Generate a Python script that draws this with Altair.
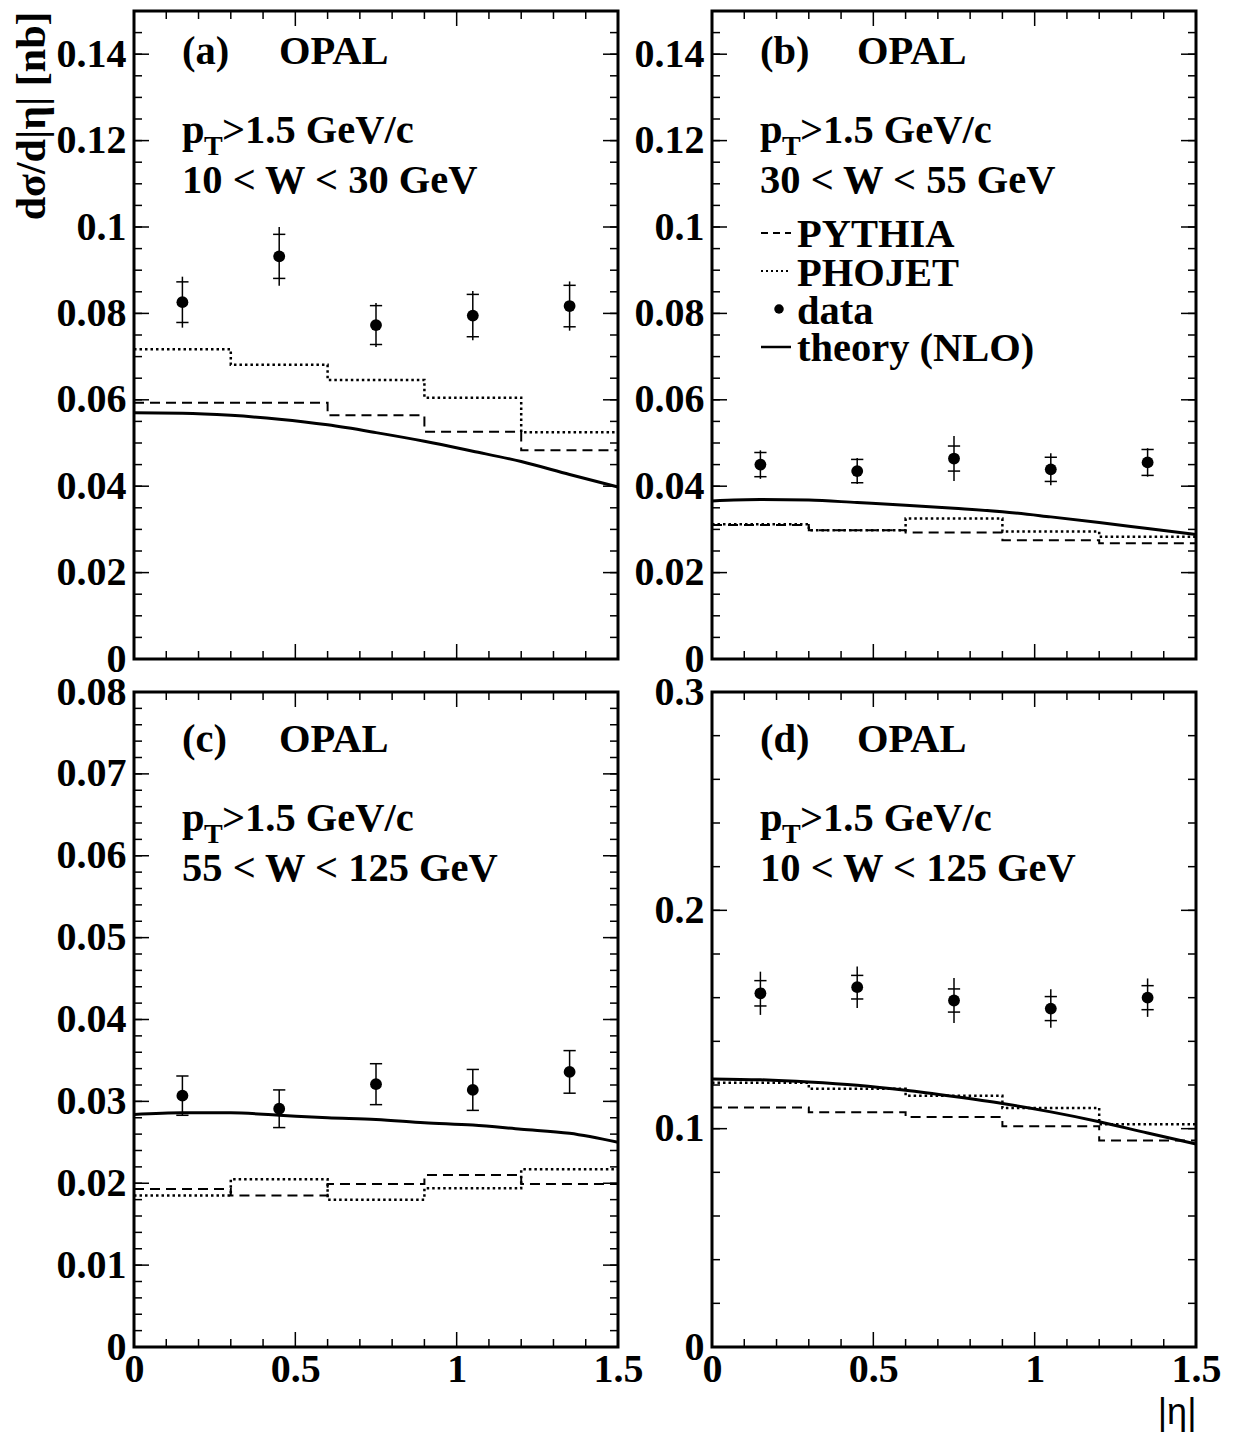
import altair as alt
import pandas as pd

# ---------------- data ----------------
BIN_EDGES = [0.0, 0.3, 0.6, 0.9, 1.2, 1.5]
BIN_CENTERS = [0.15, 0.45, 0.75, 1.05, 1.35]
THEORY_X = [0.0, 0.15, 0.30, 0.45, 0.60, 0.75, 0.90, 1.05, 1.20, 1.35, 1.50]

# (a) 10 < W < 30 GeV
A_DATA = [0.0826, 0.0932, 0.0773, 0.0795, 0.0817]
A_STAT = [0.0047, 0.0051, 0.0045, 0.0049, 0.0048]
A_TOT = [0.0059, 0.0068, 0.0051, 0.0057, 0.0057]
A_PYTHIA = [0.0593, 0.0593, 0.0564, 0.0526, 0.0483]
A_PHOJET = [0.0717, 0.0681, 0.0646, 0.0605, 0.0525]
A_THEORY = [0.0570, 0.0569, 0.0564, 0.0555, 0.0542, 0.0524, 0.0504, 0.0481, 0.0457, 0.0427, 0.0398]

# (b) 30 < W < 55 GeV
B_DATA = [0.0450, 0.0435, 0.0464, 0.0439, 0.0455]
B_STAT = [0.0028, 0.0027, 0.0029, 0.0028, 0.0030]
B_TOT = [0.0033, 0.0030, 0.0052, 0.0037, 0.0033]
B_PYTHIA = [0.0310, 0.0298, 0.0293, 0.0275, 0.0268]
B_PHOJET = [0.0312, 0.0298, 0.0325, 0.0295, 0.0283]
B_THEORY = [0.0366, 0.0369, 0.0368, 0.0362, 0.0356, 0.0349, 0.0341, 0.0329, 0.0316, 0.0302, 0.0288]

# (c) 55 < W < 125 GeV
C_DATA = [0.0307, 0.0291, 0.0321, 0.0314, 0.0336]
C_STAT = [0.0024, 0.0023, 0.0025, 0.0025, 0.0026]
C_TOT = [0.0024, 0.0023, 0.0025, 0.0025, 0.0026]
C_PYTHIA = [0.0193, 0.0185, 0.0199, 0.0210, 0.0199]
C_PHOJET = [0.0185, 0.0205, 0.0180, 0.0194, 0.0217]
C_THEORY = [0.0284, 0.0286, 0.0286, 0.0283, 0.0280, 0.0278, 0.0274, 0.0271, 0.0266, 0.0261, 0.0250]

# (d) 10 < W < 125 GeV
D_DATA = [0.1620, 0.1648, 0.1587, 0.1550, 0.1600]
D_STAT = [0.0058, 0.0054, 0.0053, 0.0055, 0.0055]
D_TOT = [0.0099, 0.0095, 0.0103, 0.0088, 0.0088]
D_PYTHIA = [0.1097, 0.1075, 0.1054, 0.1011, 0.0946]
D_PHOJET = [0.1210, 0.1183, 0.1151, 0.1095, 0.1020]
D_THEORY = [0.1228, 0.1224, 0.1214, 0.1199, 0.1176, 0.1147, 0.1115, 0.1077, 0.1032, 0.0980, 0.0930]

# axis tick labels
Y_LABELS_AB = [0, 0.02, 0.04, 0.06, 0.08, 0.1, 0.12, 0.14]
Y_LABELS_C = [0, 0.01, 0.02, 0.03, 0.04, 0.05, 0.06, 0.07, 0.08]
Y_LABELS_D = [0, 0.1, 0.2, 0.3]
X_LABELS = [0, 0.5, 1, 1.5]

# ---------------- style ----------------
SERIF = "Liberation Serif"
FS = 40.5
LFS = 40
W = 484
H_TOP = 648
H_BOT = 655
MAJ = 15
MIN = 8


def minor_ticks(vmax, step):
    n = int(round(vmax / step))
    return [round(i * step, 6) for i in range(1, n)]


def panel(tag, wtext, data, stat, tot, pythia, phojet, theory,
          ymax, ylabels, ystep, height, bottom, ytitle=False, legend=False,
          xtitle=False, dy=0):
    xs = alt.Scale(domain=[0, 1.5], nice=False, zero=False)
    ys = alt.Scale(domain=[0, ymax], nice=False, zero=False)

    yaxis = alt.Axis(values=ylabels, format="~g", ticks=False, domain=False, grid=False,
                     labelFont=SERIF, labelFontWeight="bold", labelFontSize=LFS,
                     labelColor="black", labelPadding=8,
                     title="dσ/d|η| [nb]" if ytitle else "",
                     titleFont=SERIF, titleFontWeight="bold", titleFontSize=42,
                     titleColor="black", titleAnchor="end", titlePadding=3)
    if bottom:
        xaxis = alt.Axis(values=X_LABELS, format="~g", ticks=False, domain=False, grid=False,
                         labelFont=SERIF, labelFontWeight="bold", labelFontSize=LFS,
                         labelColor="black", labelPadding=2, labelFlush=False,
                         title="|η|" if xtitle else "",
                         titleFont="Liberation Sans", titleFontWeight="normal",
                         titleFontSize=36, titleColor="black", titleAnchor="end",
                         titlePadding=6)
        xother = alt.Undefined
    else:
        xaxis = None
        xother = None

    def X(f):
        return alt.X(f, scale=xs, axis=xother)

    def Y(f):
        return alt.Y(f, scale=ys)

    # histogram tables built from the bin arrays
    py_df = pd.DataFrame({"x": BIN_EDGES, "y": pythia + [pythia[-1]]})
    ph_df = pd.DataFrame({"x": BIN_EDGES, "y": phojet + [phojet[-1]]})
    th_df = pd.DataFrame({"x": THEORY_X, "y": theory})
    pts = pd.DataFrame({
        "x": BIN_CENTERS, "y": data,
        "slo": [d - s for d, s in zip(data, stat)],
        "shi": [d + s for d, s in zip(data, stat)],
        "tlo": [d - t for d, t in zip(data, tot)],
        "thi": [d + t for d, t in zip(data, tot)],
    })

    pythia_l = alt.Chart(py_df).mark_line(
        interpolate="step-after", color="black", strokeWidth=2, strokeDash=[10, 6]
    ).encode(x=alt.X("x:Q", scale=xs, axis=xaxis), y=alt.Y("y:Q", scale=ys, axis=yaxis))
    phojet_l = alt.Chart(ph_df).mark_line(
        interpolate="step-after", color="black", strokeWidth=2.5, strokeDash=[2.5, 3]
    ).encode(x=X("x:Q"), y=Y("y:Q"))
    theory_l = alt.Chart(th_df).mark_line(
        interpolate="monotone", color="black", strokeWidth=3
    ).encode(x=X("x:Q"), y=Y("y:Q"))

    ebar = alt.Chart(pts).mark_rule(color="black", strokeWidth=1.5).encode(
        x=X("x:Q"), y=Y("tlo:Q"), y2="thi:Q")
    cap_lo = alt.Chart(pts).mark_point(shape="stroke", size=150, color="black",
                                       strokeWidth=1.5, opacity=1).encode(
        x=X("x:Q"), y=Y("slo:Q"))
    cap_hi = alt.Chart(pts).mark_point(shape="stroke", size=150, color="black",
                                       strokeWidth=1.5, opacity=1).encode(
        x=X("x:Q"), y=Y("shi:Q"))
    dots = alt.Chart(pts).mark_circle(size=140, color="black", opacity=1).encode(
        x=X("x:Q"), y=Y("y:Q"))

    # inside ticks on all four sides
    ymaj = pd.DataFrame({"v": ylabels})
    ymin = pd.DataFrame({"v": minor_ticks(ymax, ystep)})
    xmaj = pd.DataFrame({"v": X_LABELS})
    xmin = pd.DataFrame({"v": [0.1, 0.2, 0.3, 0.4, 0.6, 0.7, 0.8, 0.9, 1.1, 1.2, 1.3, 1.4]})
    ticks = []
    for df, L in ((ymaj, MAJ), (ymin, MIN)):
        ticks.append(alt.Chart(df).mark_rule(color="black", strokeWidth=1.5).encode(
            y=Y("v:Q"), x=alt.value(0), x2=alt.value(L)))
        ticks.append(alt.Chart(df).mark_rule(color="black", strokeWidth=1.5).encode(
            y=Y("v:Q"), x=alt.value(W), x2=alt.value(W - L)))
    for df, L in ((xmaj, MAJ), (xmin, MIN)):
        ticks.append(alt.Chart(df).mark_rule(color="black", strokeWidth=1.5).encode(
            x=X("v:Q"), y=alt.value(0), y2=alt.value(L)))
        ticks.append(alt.Chart(df).mark_rule(color="black", strokeWidth=1.5).encode(
            x=X("v:Q"), y=alt.value(height), y2=alt.value(height - L)))

    # annotations
    def txt(s, x, y, size=FS):
        return alt.Chart(pd.DataFrame({"t": [s]})).mark_text(
            align="left", baseline="alphabetic", font=SERIF, fontWeight="bold",
            fontSize=size, color="black").encode(
            text="t:N", x=alt.value(x), y=alt.value(y + dy))

    notes = [
        txt(tag, 48, 60), txt("OPAL", 145, 60),
        txt("p", 48, 139), txt("T", 70, 151, 28), txt(">1.5 GeV/c", 88, 139),
        txt(wtext, 48, 189),
    ]

    if legend:
        one = pd.DataFrame({"k": [0]})
        notes += [
            alt.Chart(one).mark_rule(color="black", strokeWidth=2, strokeDash=[7, 5]).encode(
                x=alt.value(49), x2=alt.value(79), y=alt.value(229 + dy)),
            alt.Chart(one).mark_rule(color="black", strokeWidth=2, strokeDash=[2, 3]).encode(
                x=alt.value(49), x2=alt.value(79), y=alt.value(267 + dy)),
            alt.Chart(one).mark_circle(size=90, color="black", opacity=1).encode(
                x=alt.value(67), y=alt.value(305 + dy)),
            alt.Chart(one).mark_rule(color="black", strokeWidth=2.5).encode(
                x=alt.value(49), x2=alt.value(79), y=alt.value(343 + dy)),
            txt("PYTHIA", 85, 243), txt("PHOJET", 85, 282),
            txt("data", 85, 320), txt("theory (NLO)", 85, 357),
        ]

    return alt.layer(pythia_l, phojet_l, theory_l, ebar, cap_lo, cap_hi, dots,
                     *ticks, *notes).properties(width=W, height=height)


pa = panel("(a)", "10 < W < 30 GeV", A_DATA, A_STAT, A_TOT, A_PYTHIA, A_PHOJET, A_THEORY,
           0.15, Y_LABELS_AB, 0.005, H_TOP, False, ytitle=True, dy=-7)
pb = panel("(b)", "30 < W < 55 GeV", B_DATA, B_STAT, B_TOT, B_PYTHIA, B_PHOJET, B_THEORY,
           0.15, Y_LABELS_AB, 0.005, H_TOP, False, legend=True, dy=-7)
pc = panel("(c)", "55 < W < 125 GeV", C_DATA, C_STAT, C_TOT, C_PYTHIA, C_PHOJET, C_THEORY,
           0.08, Y_LABELS_C, 0.002, H_BOT, True)
pd_ = panel("(d)", "10 < W < 125 GeV", D_DATA, D_STAT, D_TOT, D_PYTHIA, D_PHOJET, D_THEORY,
            0.3, Y_LABELS_D, 0.02, H_BOT, True, xtitle=True)

chart = alt.concat(pa, pb, pc, pd_, columns=2,
                   spacing={"row": 33, "column": 94}, bounds="flush").properties(
    padding={"left": 0, "top": 0, "right": 0, "bottom": 0},
    background="white",
).configure_view(stroke="black", strokeWidth=3)

chart.save("out.html", embed_options={"renderer": "svg", "actions": False})
